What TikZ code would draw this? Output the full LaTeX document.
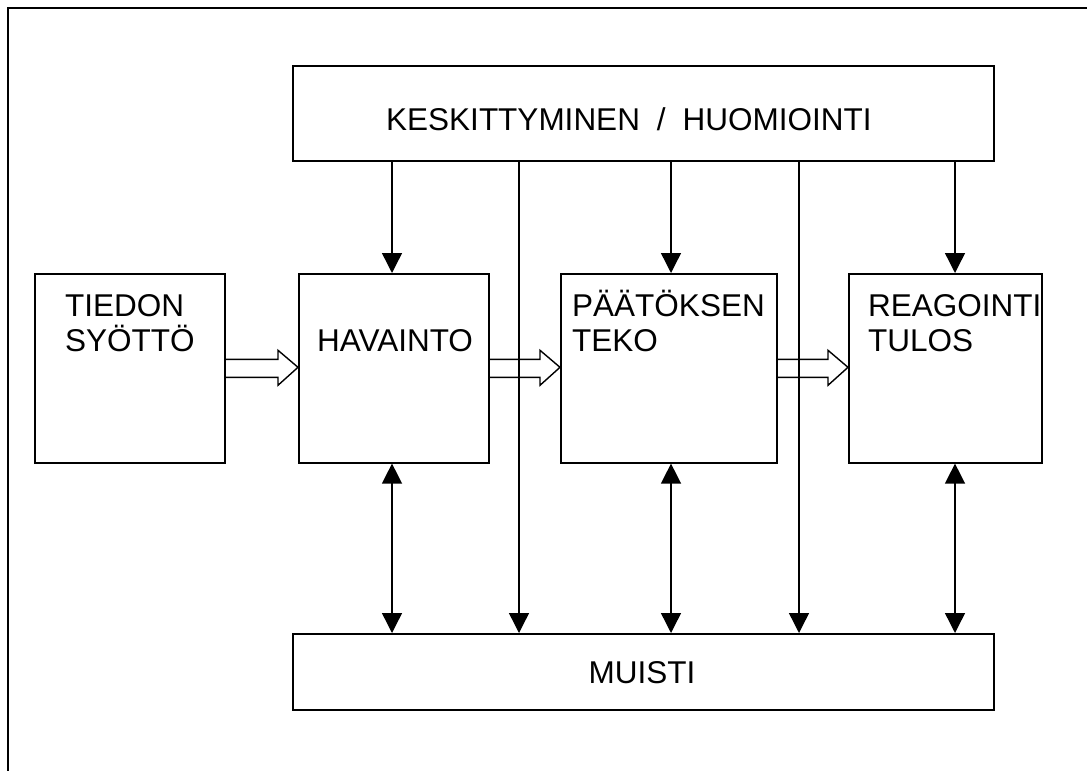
\documentclass[tikz,border=0pt]{standalone}
\usepackage{fontspec}
\setmainfont{Liberation Sans}
\usetikzlibrary{arrows.meta,calc}
\begin{document}
\begin{tikzpicture}[x=1pt,y=-1pt,
  box/.style={draw,line width=1.6pt,minimum width=#1,inner sep=0pt,anchor=north west},
  lbl/.style={inner sep=0pt,anchor=base west,align=left,font=\fontsize{31.5}{35}\selectfont},
  conn/.style={line width=1.4pt},
  tip/.style={-{Triangle[width=20pt,length=20pt]}},
  dtip/.style={{Triangle[width=20pt,length=20pt]}-{Triangle[width=20pt,length=20pt]}},
  blk/.style={line width=1.4pt,line join=miter}]
\useasboundingbox (0,0) rectangle (1087,771);
% outer frame (top and left edges visible)
\draw[line width=2pt] (7.5,771) -- (7.5,7.5) -- (1087,7.5);
% boxes
\node[box=701pt,minimum height=95pt] (top) at (292,65) {};
\node[box=190pt,minimum height=189pt] (tied) at (34,273) {};
\node[box=190pt,minimum height=189pt] (hav) at (298,273) {};
\node[box=216pt,minimum height=189pt] (paat) at (560,273) {};
\node[box=193pt,minimum height=189pt] (reag) at (848,273) {};
\node[box=701pt,minimum height=76pt] (mem) at (292,633) {};
% texts
\node[lbl] (ttop) at (386,130) {KESKITTYMINEN\hspace{17pt}/\hspace{17pt}HUOMIOINTI};
\node[lbl] (ttied) at (65,351) {TIEDON\\SYÖTTÖ};
\node[lbl] (thav) at (317,351) {HAVAINTO};
\node[lbl] (tpaat) at (572,351) {PÄÄTÖKSEN\\TEKO};
\node[lbl] (treag) at (868,351) {REAGOINTI\\TULOS};
\node[lbl,anchor=base] (tmem) at (642,683) {MUISTI};
% column coordinates
\coordinate (c1) at (392,0);
\coordinate (c2) at (519,0);
\coordinate (c3) at (671,0);
\coordinate (c4) at (799,0);
\coordinate (c5) at (955,0);
% attention arrows
\draw[conn,tip] (c1 |- top.south) -- (c1 |- hav.north);
\draw[conn,tip] (c3 |- top.south) -- (c3 |- paat.north);
\draw[conn,tip] (c5 |- top.south) -- (c5 |- reag.north);
\draw[conn,tip] (c2 |- top.south) -- (c2 |- mem.north);
\draw[conn,tip] (c4 |- top.south) -- (c4 |- mem.north);
% memory double arrows
\draw[conn,dtip] (c1 |- hav.south) -- (c1 |- mem.north);
\draw[conn,dtip] (c3 |- paat.south) -- (c3 |- mem.north);
\draw[conn,dtip] (c5 |- reag.south) -- (c5 |- mem.north);
% block arrows
\foreach \a/\b in {tied/hav,hav/paat,paat/reag}{
  \draw[blk] ($(\a.east)+(0,-9)$) -- ($(\b.west)+(-20,-9)$) -- ($(\b.west)+(-20,-18)$)
    -- ($(\b.west)+(0,-1)$) -- ($(\b.west)+(-20,17)$) -- ($(\b.west)+(-20,9)$) -- ($(\a.east)+(0,9)$);
}
\end{tikzpicture}
\end{document}
